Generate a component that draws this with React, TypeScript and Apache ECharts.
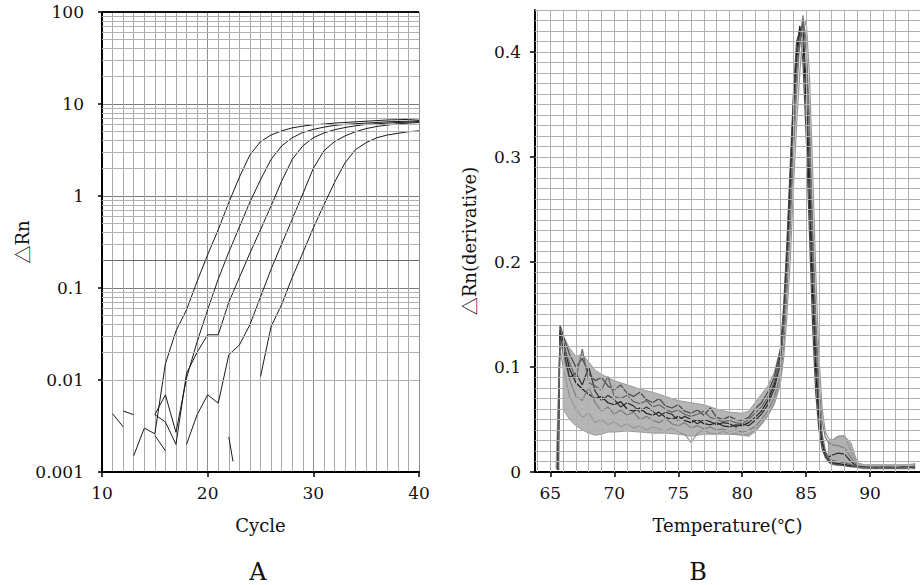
import React, { useEffect, useRef } from "react";
import * as echarts from "echarts";

// ---------------- Panel A : amplification plot (log scale) ----------------
const A_X_MIN = 10;
const A_X_MAX = 40;
const A_Y_TICKS = [0.001, 0.01, 0.1, 1, 10, 100];
const A_THRESHOLD = 0.2;

const A_CURVE1_START = 13;
const A_CURVE1 = [0.0015, 0.003, 0.0026, 0.015, 0.034, 0.058, 0.118, 0.23, 0.43, 0.85, 1.6, 2.8, 3.9, 4.6, 5.1, 5.5, 5.75, 5.95, 6.05, 6.2, 6.3, 6.4, 6.5, 6.6, 6.7, 6.75, 6.8, 6.9];
const A_CURVE2_START = 15;
const A_CURVE2 = [0.0042, 0.0069, 0.0027, 0.0105, 0.026, 0.058, 0.125, 0.245, 0.46, 0.86, 1.5, 2.5, 3.5, 4.3, 4.9, 5.3, 5.6, 5.85, 6.0, 6.1, 6.2, 6.3, 6.4, 6.45, 6.5, 6.6];
const A_CURVE3_START = 15;
const A_CURVE3 = [0.0042, 0.0035, 0.002, 0.0118, 0.02, 0.031, 0.031, 0.07, 0.13, 0.24, 0.43, 0.78, 1.45, 2.5, 3.5, 4.3, 4.85, 5.25, 5.55, 5.8, 6.0, 6.1, 6.2, 6.3, 6.35, 6.45];
const A_CURVE4_START = 18;
const A_CURVE4 = [0.002, 0.0042, 0.0069, 0.0056, 0.0188, 0.024, 0.04, 0.08, 0.16, 0.3, 0.56, 1.05, 2.0, 3.1, 3.9, 4.5, 5.0, 5.4, 5.7, 5.9, 6.1, 6.2, 6.3];
const A_CURVE5_START = 25;
const A_CURVE5 = [0.0109, 0.038, 0.066, 0.13, 0.24, 0.45, 0.8, 1.4, 2.3, 3.2, 3.8, 4.3, 4.6, 4.8, 5.0, 5.1];

// short noisy fragments near the baseline
const A_NOISE1_CYCLES = [11, 12];
const A_NOISE1_VALUES = [0.0043, 0.0031];
const A_NOISE2_CYCLES = [12, 13];
const A_NOISE2_VALUES = [0.0046, 0.0042];
const A_NOISE3_CYCLES = [15, 16];
const A_NOISE3_VALUES = [0.0025, 0.0017];
const A_NOISE4_CYCLES = [22, 22.4];
const A_NOISE4_VALUES = [0.0024, 0.0013];

// ---------------- Panel B : melt curve derivative ----------------
const B_X_LABELS = [65, 70, 75, 80, 85, 90];
const B_Y_LABELS = [0, 0.1, 0.2, 0.3, 0.4];

const B_TEMPS = [65.75, 66, 66.5, 67, 67.5, 68, 68.5, 69, 69.5, 70, 70.5, 71, 71.5, 72, 72.5, 73, 73.5, 74, 74.5, 75, 75.5, 76, 76.5, 77, 77.5, 78, 78.5, 79, 79.5, 80, 80.5, 81, 81.5, 82, 82.5, 83, 83.25, 83.5, 83.75, 84, 84.25, 84.5, 84.75, 85, 85.25, 85.5, 85.75, 86, 86.25, 86.5, 86.75, 87, 87.5, 88, 88.5, 89, 89.5, 90, 90.5, 91, 91.5, 92, 92.5, 93, 93.5];

const B_START_T = [65.6, 65.5, 65.65, 65.45, 65.55, 65.6];
const B_START_V = [0.002, 0.003, 0.002, 0.003, 0.002, 0.003];

const B_CURVE1 = [0.135, 0.125, 0.098, 0.085, 0.079, 0.074, 0.07, 0.072, 0.066, 0.064, 0.067, 0.06, 0.058, 0.061, 0.056, 0.054, 0.057, 0.052, 0.05, 0.053, 0.049, 0.047, 0.05, 0.046, 0.045, 0.047, 0.044, 0.043, 0.045, 0.044, 0.047, 0.052, 0.058, 0.068, 0.083, 0.112, 0.15, 0.21, 0.28, 0.35, 0.4, 0.425, 0.41, 0.35, 0.26, 0.17, 0.095, 0.05, 0.027, 0.016, 0.011, 0.009, 0.008, 0.007, 0.006, 0.005, 0.005, 0.004, 0.005, 0.004, 0.004, 0.005, 0.004, 0.004, 0.006];
const B_CURVE2 = [0.128, 0.112, 0.088, 0.072, 0.068, 0.081, 0.066, 0.058, 0.062, 0.055, 0.059, 0.054, 0.057, 0.05, 0.053, 0.049, 0.047, 0.051, 0.046, 0.044, 0.047, 0.042, 0.044, 0.041, 0.043, 0.04, 0.041, 0.039, 0.04, 0.038, 0.04, 0.043, 0.05, 0.058, 0.071, 0.092, 0.12, 0.17, 0.23, 0.3, 0.36, 0.41, 0.435, 0.41, 0.34, 0.24, 0.15, 0.085, 0.048, 0.033, 0.028, 0.026, 0.025, 0.023, 0.014, 0.006, 0.005, 0.005, 0.004, 0.005, 0.004, 0.004, 0.005, 0.004, 0.005];
const B_CURVE3 = [0.14, 0.13, 0.112, 0.1, 0.108, 0.094, 0.087, 0.09, 0.082, 0.078, 0.083, 0.075, 0.072, 0.076, 0.069, 0.066, 0.07, 0.063, 0.061, 0.064, 0.058, 0.056, 0.059, 0.054, 0.061, 0.052, 0.05, 0.053, 0.05, 0.049, 0.052, 0.06, 0.066, 0.076, 0.09, 0.118, 0.16, 0.22, 0.29, 0.36, 0.41, 0.42, 0.39, 0.32, 0.23, 0.14, 0.075, 0.04, 0.022, 0.014, 0.01, 0.008, 0.007, 0.006, 0.005, 0.005, 0.004, 0.005, 0.004, 0.004, 0.005, 0.004, 0.004, 0.005, 0.004];
const B_CURVE4 = [0.118, 0.1, 0.072, 0.06, 0.052, 0.056, 0.047, 0.05, 0.045, 0.048, 0.043, 0.046, 0.042, 0.044, 0.04, 0.043, 0.041, 0.039, 0.042, 0.038, 0.036, 0.028, 0.037, 0.04, 0.037, 0.036, 0.039, 0.036, 0.037, 0.035, 0.036, 0.04, 0.046, 0.054, 0.066, 0.086, 0.11, 0.15, 0.2, 0.27, 0.33, 0.38, 0.42, 0.43, 0.38, 0.29, 0.19, 0.11, 0.06, 0.038, 0.032, 0.03, 0.034, 0.035, 0.02, 0.007, 0.005, 0.004, 0.005, 0.005, 0.004, 0.005, 0.005, 0.004, 0.006];
const B_CURVE5 = [0.132, 0.118, 0.09, 0.094, 0.083, 0.1, 0.077, 0.068, 0.073, 0.069, 0.062, 0.066, 0.063, 0.057, 0.062, 0.058, 0.053, 0.057, 0.055, 0.049, 0.053, 0.05, 0.046, 0.05, 0.048, 0.045, 0.047, 0.046, 0.043, 0.046, 0.044, 0.049, 0.055, 0.064, 0.079, 0.104, 0.14, 0.2, 0.27, 0.34, 0.39, 0.42, 0.425, 0.37, 0.29, 0.19, 0.11, 0.058, 0.03, 0.018, 0.014, 0.016, 0.018, 0.017, 0.01, 0.005, 0.005, 0.004, 0.004, 0.005, 0.004, 0.004, 0.005, 0.005, 0.004];
const B_CURVE6 = [0.125, 0.121, 0.104, 0.089, 0.117, 0.085, 0.082, 0.078, 0.091, 0.072, 0.07, 0.073, 0.067, 0.065, 0.068, 0.062, 0.064, 0.06, 0.057, 0.059, 0.055, 0.053, 0.055, 0.058, 0.052, 0.05, 0.048, 0.049, 0.047, 0.046, 0.05, 0.056, 0.062, 0.071, 0.086, 0.108, 0.14, 0.19, 0.25, 0.32, 0.38, 0.41, 0.43, 0.4, 0.32, 0.22, 0.13, 0.07, 0.036, 0.02, 0.013, 0.011, 0.01, 0.009, 0.007, 0.005, 0.004, 0.004, 0.005, 0.004, 0.005, 0.004, 0.004, 0.005, 0.005];
const B_CURVES = [B_CURVE1, B_CURVE2, B_CURVE3, B_CURVE4, B_CURVE5, B_CURVE6];
const B_CURVE_COLORS = ["#1c1c1c", "#7c7c7c", "#474747", "#969696", "#303030", "#646464"];

// envelope of the dense bundle of curves (before the peak and in the tail)
const B_BAND_T = [66, 66.5, 67, 67.5, 68, 68.5, 69, 69.5, 70, 71, 72, 73, 74, 75, 76, 77, 78, 79, 80, 80.5, 81, 81.5, 82, 82.5, 83];
const B_BAND_LO = [0.06, 0.05, 0.044, 0.04, 0.037, 0.035, 0.036, 0.038, 0.038, 0.039, 0.038, 0.037, 0.037, 0.036, 0.034, 0.036, 0.036, 0.036, 0.035, 0.034, 0.038, 0.045, 0.053, 0.064, 0.084];
const B_BAND_HI = [0.13, 0.118, 0.11, 0.112, 0.105, 0.097, 0.093, 0.09, 0.087, 0.083, 0.079, 0.076, 0.072, 0.068, 0.066, 0.064, 0.06, 0.057, 0.056, 0.058, 0.066, 0.074, 0.082, 0.095, 0.118];
const B_TAIL_T = [86.75, 87, 87.5, 88, 88.5, 89, 89.5, 90, 91, 92, 93, 93.5];
const B_TAIL_LO = [0.009, 0.007, 0.006, 0.006, 0.005, 0.004, 0.003, 0.003, 0.003, 0.003, 0.003, 0.003];
const B_TAIL_HI = [0.03, 0.03, 0.034, 0.034, 0.028, 0.009, 0.007, 0.007, 0.007, 0.007, 0.007, 0.008];

const SERIF = "'DejaVu Serif', serif";
const CJK = "'Noto Sans CJK SC', sans-serif";

function pairs(xs: number[], ys: number[]) {
  return xs.map((x, i) => [x, ys[i]]);
}
function fromStart(start: number, vals: number[]) {
  return vals.map((v, i) => [start + i, v]);
}

function bandSeries(name: string, ts: number[], lo: number[], hi: number[], fill: string) {
  return {
    name,
    type: "custom",
    xAxisIndex: 1,
    yAxisIndex: 1,
    data: [[ts[0], lo[0]]],
    z: 2,
    silent: true,
    clip: true,
    renderItem: (_params: any, api: any) => {
      const top = ts.map((t, i) => api.coord([t, hi[i]]));
      const bottom = ts.map((t, i) => api.coord([t, lo[i]])).reverse();
      return {
        type: "polygon",
        shape: { points: [...top, ...bottom] },
        style: { fill, stroke: "#8a8a8a", lineWidth: 0.8 },
      };
    },
  };
}

export default function App() {
  const ref = useRef<HTMLDivElement>(null);

  useEffect(() => {
    document.body.style.margin = "0";
    if (!ref.current) return;
    const chart = echarts.init(ref.current, undefined, { renderer: "svg" });

    // gridline helpers (axis configuration, not data)
    const aMinorY: any[] = [];
    for (let d = 0.001; d < 100; d *= 10) {
      for (let k = 2; k <= 9; k++) aMinorY.push({ yAxis: +(d * k).toPrecision(2) });
    }
    const bGridX: any[] = [];
    for (let t = 64; t <= 93; t++) bGridX.push({ xAxis: t });
    const bGridY: any[] = [];
    for (let i = 1; i <= 44; i++) bGridY.push({ yAxis: +(i * 0.01).toFixed(2) });

    const lineA = (name: string, data: number[][]) => ({
      name,
      type: "line",
      xAxisIndex: 0,
      yAxisIndex: 0,
      data,
      showSymbol: false,
      symbol: "none",
      lineStyle: { color: "#1a1a1a", width: 1 },
      z: 4,
    });

    const bSeries = B_CURVES.map((vals, ci) => ({
      name: "melt" + ci,
      type: "line",
      xAxisIndex: 1,
      yAxisIndex: 1,
      data: [[B_START_T[ci], B_START_V[ci]], ...pairs(B_TEMPS, vals)],
      showSymbol: false,
      symbol: "none",
      lineStyle: { color: B_CURVE_COLORS[ci], width: 1.2 },
      z: 4,
    }));

    const nameStyle = {
      fontFamily: SERIF,
      fontSize: 18,
      color: "#111",
      rich: { c: { fontFamily: CJK, fontSize: 18, color: "#111" } },
    };

    const option: any = {
      animation: false,
      backgroundColor: "#ffffff",
      grid: [
        { left: 102, right: 501, top: 12, bottom: 113 },
        { left: 535, right: 0, top: 10, bottom: 113 },
      ],
      xAxis: [
        {
          gridIndex: 0,
          type: "value",
          min: A_X_MIN,
          max: A_X_MAX,
          interval: 10,
          name: "Cycle",
          nameLocation: "middle",
          nameGap: 44,
          nameTextStyle: nameStyle,
          axisLine: { show: true, onZero: false, lineStyle: { color: "#000", width: 2 } },
          axisTick: { show: true, length: 5, lineStyle: { color: "#000", width: 1.5 } },
          axisLabel: { fontFamily: SERIF, fontSize: 17, color: "#111", margin: 12 },
          splitLine: { show: true, lineStyle: { color: "#8f8f8f", width: 1 } },
          minorTick: { show: false, splitNumber: 10 },
          minorSplitLine: { show: true, lineStyle: { color: "#a9a9a9", width: 1 } },
        },
        {
          gridIndex: 1,
          type: "value",
          min: 63.8,
          max: 93.9,
          splitNumber: 6,
          name: "Temperature({c|℃})",
          nameLocation: "middle",
          nameGap: 44,
          nameTextStyle: nameStyle,
          axisLine: { show: true, onZero: false, lineStyle: { color: "#000", width: 2 } },
          axisTick: { show: true, length: 5, customValues: B_X_LABELS, lineStyle: { color: "#000", width: 1.5 } },
          axisLabel: {
            fontFamily: SERIF,
            fontSize: 17,
            color: "#111",
            margin: 12,
            customValues: B_X_LABELS,
          },
          splitLine: { show: false },
        },
      ],
      yAxis: [
        {
          gridIndex: 0,
          type: "log",
          logBase: 10,
          min: A_Y_TICKS[0],
          max: A_Y_TICKS[A_Y_TICKS.length - 1],
          name: "{c|△}Rn",
          nameLocation: "middle",
          nameGap: 60,
          nameTextStyle: nameStyle,
          axisLine: { show: true, lineStyle: { color: "#000", width: 2 } },
          axisTick: { show: true, length: 4, lineStyle: { color: "#000", width: 1.5 } },
          axisLabel: {
            fontFamily: SERIF,
            fontSize: 17,
            color: "#111",
            margin: 18,
            formatter: (v: number) => String(Number(v.toPrecision(1))),
          },
          splitLine: { show: true, lineStyle: { color: "#7d7d7d", width: 1 } },
        },
        {
          gridIndex: 1,
          type: "value",
          min: 0,
          max: 0.44,
          interval: 0.1,
          name: "{c|△}Rn(derivative)",
          nameLocation: "middle",
          nameGap: 57,
          nameTextStyle: nameStyle,
          axisLine: { show: true, onZero: false, lineStyle: { color: "#000", width: 2 } },
          axisTick: { show: true, length: 5, customValues: B_Y_LABELS, lineStyle: { color: "#000", width: 1.5 } },
          axisLabel: {
            fontFamily: SERIF,
            fontSize: 17,
            color: "#111",
            margin: 14,
            customValues: B_Y_LABELS,
            formatter: (v: number) => (v === 0 ? "0" : v.toFixed(1)),
          },
          splitLine: { show: false },
        },
      ],
      graphic: [
        {
          type: "text",
          x: 258,
          y: 572,
          style: { text: "A", fontFamily: SERIF, fontSize: 24, fill: "#111", align: "center", verticalAlign: "middle" },
        },
        {
          type: "text",
          x: 698,
          y: 572,
          style: { text: "B", fontFamily: SERIF, fontSize: 24, fill: "#111", align: "center", verticalAlign: "middle" },
        },
      ],
      series: [
        // Panel A minor log gridlines, threshold and top border
        {
          name: "gridA",
          type: "line",
          xAxisIndex: 0,
          yAxisIndex: 0,
          data: [],
          z: 1,
          silent: true,
          markLine: {
            silent: true,
            symbol: "none",
            label: { show: false },
            animation: false,
            lineStyle: { color: "#b2b2b2", width: 1, type: "solid" },
            data: [
              ...aMinorY,
              { yAxis: A_THRESHOLD, lineStyle: { color: "#6a6a6a", width: 1.2, type: "solid" } },
              { yAxis: 100, lineStyle: { color: "#111", width: 2, type: "solid" } },
            ],
          },
        },
        lineA("noise1", pairs(A_NOISE1_CYCLES, A_NOISE1_VALUES)),
        lineA("noise2", pairs(A_NOISE2_CYCLES, A_NOISE2_VALUES)),
        lineA("noise3", pairs(A_NOISE3_CYCLES, A_NOISE3_VALUES)),
        lineA("noise4", pairs(A_NOISE4_CYCLES, A_NOISE4_VALUES)),
        lineA("curve1", fromStart(A_CURVE1_START, A_CURVE1)),
        lineA("curve2", fromStart(A_CURVE2_START, A_CURVE2)),
        lineA("curve3", fromStart(A_CURVE3_START, A_CURVE3)),
        lineA("curve4", fromStart(A_CURVE4_START, A_CURVE4)),
        lineA("curve5", fromStart(A_CURVE5_START, A_CURVE5)),

        // Panel B gridlines
        {
          name: "gridB",
          type: "line",
          xAxisIndex: 1,
          yAxisIndex: 1,
          data: [],
          z: 1,
          silent: true,
          markLine: {
            silent: true,
            symbol: "none",
            label: { show: false },
            animation: false,
            lineStyle: { color: "#b0b0b0", width: 1, type: "solid" },
            data: [...bGridX, ...bGridY],
          },
        },
        bandSeries("band", B_BAND_T, B_BAND_LO, B_BAND_HI, "#b6b6b6"),
        bandSeries("tail", B_TAIL_T, B_TAIL_LO, B_TAIL_HI, "#b0b0b0"),
        ...bSeries,
      ],
    };

    chart.setOption(option);
    return () => {
      chart.dispose();
    };
  }, []);

  return <div ref={ref} style={{ width: 920, height: 585 }} />;
}
